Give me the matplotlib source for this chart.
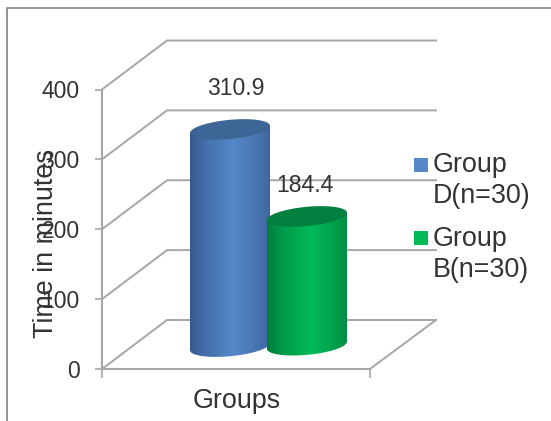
import numpy as np
import matplotlib
matplotlib.use("Agg")
import matplotlib.pyplot as plt
from matplotlib.lines import Line2D
from matplotlib.patches import Polygon, Rectangle
from matplotlib.colors import to_rgb

# Chart data
groups = ["Group\nD(n=30)", "Group\nB(n=30)"]
minutes = [310.9, 184.4]
value_labels = ["310.9", "184.4"]
y_ticks = [0, 100, 200, 300, 400]
side_edge_colors = ["#34588a", "#007a3a"]
side_mid_colors = ["#5587ca", "#00ba58"]
cap_colors = ["#3d6595", "#007f3e"]

W, H = 551, 421
plt.rcParams["font.family"] = ["Liberation Sans", "DejaVu Sans"]
TEXT = "#333333"
GRID = "#a6a6a6"

fig = plt.figure(figsize=(W / 100, H / 100), dpi=100, facecolor="white")

# Front plane of the box: horizontal units are pixels, vertical units are minutes
LEFT, RIGHT, TOP, BOTTOM = 102, 370, 89.5, 369
ax = fig.add_axes([LEFT / W, 1 - BOTTOM / H, (RIGHT - LEFT) / W, (BOTTOM - TOP) / H])
ax.patch.set_alpha(0)
PX = 400 / (BOTTOM - TOP)  # minutes per vertical pixel
DEPTH_X, DEPTH_Y = 65, 49 * PX


def fig_x(x):
    return x / W


def fig_y(y):
    return 1 - y / H


# Outer chart frame, cut off by the right and bottom edges
fig.add_artist(Line2D([fig_x(6.5), fig_x(6.5), 1], [0, fig_y(8), fig_y(8)],
                      color="#8c8c8c", lw=1.3))

# Walls and floor of the box
for v in y_ticks:
    ax.plot([LEFT, LEFT + DEPTH_X, LEFT + DEPTH_X + 269],
            [v, v + DEPTH_Y, v + DEPTH_Y],
            color=GRID, lw=1.4, clip_on=False, zorder=1)
ax.plot([RIGHT, RIGHT + 66], [0, DEPTH_Y], color=GRID, lw=1.4, clip_on=False, zorder=1)


def draw_cylinder(cx, base, height, edge, mid, cap, z):
    half_w, half_h, tilt = 40, 9.6 * PX, 3.6 * PX
    t = np.linspace(0, 2 * np.pi, 181)
    ex = half_w * np.cos(t)
    ey = tilt * np.cos(t) + half_h * np.sin(t)
    lower = np.linspace(np.pi, 2 * np.pi, 91)
    lx = half_w * np.cos(lower)
    ly = tilt * np.cos(lower) + half_h * np.sin(lower)
    top = base + height
    outline = np.column_stack([
        np.r_[cx - half_w, cx + lx, cx + half_w],
        np.r_[top - tilt, base + ly, top + tilt],
    ])
    body = Polygon(outline, closed=True, fc="none", ec="none", zorder=z)
    ax.add_patch(body)

    # Horizontal shading across the curved side
    pos = np.linspace(0, 1, 160)
    weight = np.clip(1 - np.abs(pos - 0.55) / 0.55, 0, 1) ** 0.7
    e, m = np.array(to_rgb(edge)), np.array(to_rgb(mid))
    shade = (e[None, :] * (1 - weight[:, None]) + m[None, :] * weight[:, None])[None, :, :]
    img = ax.imshow(shade, extent=(cx - half_w, cx + half_w, base - 3 * half_h, top + 3 * half_h),
                    aspect="auto", zorder=z, interpolation="bilinear")
    img.set_clip_path(body)

    ax.add_patch(Polygon(np.column_stack([cx + ex, top + ey]), closed=True,
                         fc=cap, ec="none", zorder=z + 0.1, clip_on=False))


BASE = 32
centers = [230, 307]
for i, (cx, m) in enumerate(zip(centers, minutes)):
    draw_cylinder(cx, BASE if i == 0 else BASE + 2, m,
                  side_edge_colors[i], side_mid_colors[i], cap_colors[i], 3 + i)

ax.set_xlim(LEFT, RIGHT)
ax.set_ylim(0, 400)

# Value labels above the cylinders
label_x = [236, 304.5]
label_y = [(BOTTOM - 88.5) * PX, (BOTTOM - 185.5) * PX]
for x, y, s in zip(label_x, label_y, value_labels):
    ax.text(x, y, s, ha="center", va="center", fontsize=16.6, color=TEXT, zorder=6)

# Axes furniture
for side in ("top", "right"):
    ax.spines[side].set_visible(False)
for side in ("left", "bottom"):
    ax.spines[side].set_color(GRID)
    ax.spines[side].set_linewidth(1.5)
ax.set_yticks(y_ticks)
ax.set_xticks([LEFT, RIGHT])
ax.set_xticklabels([])
ax.tick_params(axis="y", length=5, width=1.2, color=GRID, pad=11,
               labelsize=16.5, labelcolor=TEXT)
ax.tick_params(axis="x", length=6.5, width=1.2, color=GRID)
ax.set_ylabel("Time in minutes", fontsize=19.4, color=TEXT, va="center")
ax.yaxis.set_label_coords((46.5 - LEFT) / (RIGHT - LEFT), (BOTTOM - 244) / (BOTTOM - TOP))
ax.set_xlabel("Groups", fontsize=19.4, color=TEXT, va="center")
ax.xaxis.set_label_coords((236.5 - LEFT) / (RIGHT - LEFT), (BOTTOM - 400.5) / (BOTTOM - TOP))

# Legend keys and wrapped entries
swatch_y = [157.5, 231]
text_y = [165, 239]
for sy, ty, label, color in zip(swatch_y, text_y, groups, side_mid_colors):
    fig.add_artist(Rectangle((fig_x(414), fig_y(sy + 14)), 13.5 / W, 14 / H,
                             transform=fig.transFigure, fc=color, ec="none"))
    first, second = label.split("\n")
    fig.text(fig_x(433), fig_y(ty), first, ha="left", va="center", fontsize=19.4, color=TEXT)
    fig.text(fig_x(433), fig_y(ty + 31), second, ha="left", va="center", fontsize=19.4, color=TEXT)

fig.savefig("out.png", dpi=100)
